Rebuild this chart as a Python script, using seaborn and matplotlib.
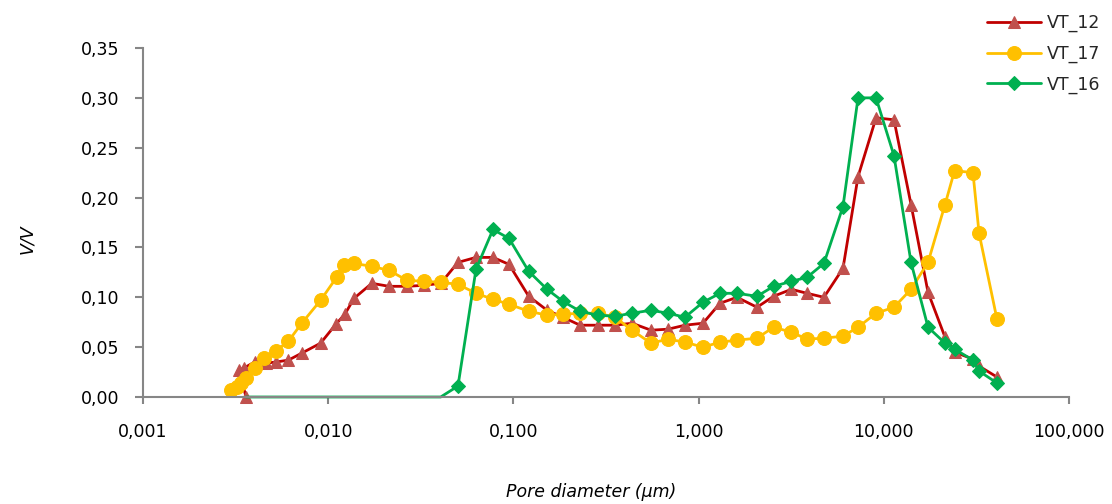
import matplotlib
matplotlib.use("Agg")
import matplotlib.pyplot as plt
from matplotlib.ticker import NullLocator
import pandas as pd
import seaborn as sns

# pore diameters (um) shared by the three curves from ~0.033 um upward
diam_common = [0.0329, 0.0405, 0.0502, 0.0628, 0.0776, 0.0947, 0.121, 0.152, 0.185,
               0.229, 0.286, 0.354, 0.437, 0.553, 0.684, 0.844, 1.056, 1.305, 1.612,
               2.067, 2.54, 3.17, 3.85, 4.75, 6.02, 7.26, 9.08, 11.35, 14.03, 17.33,
               21.41, 24.1, 30.3, 32.7, 40.85]

# VT_12
diam_vt12_left = [0.0036, 0.0033, 0.0035, 0.0040, 0.0046, 0.0052, 0.0061, 0.0072,
                  0.0091, 0.0110, 0.0123, 0.0138, 0.0172, 0.0213, 0.0266]
vv_vt12_left = [0.000, 0.027, 0.029, 0.035, 0.034, 0.035, 0.037, 0.044, 0.054,
                0.073, 0.083, 0.099, 0.114, 0.111, 0.111]
vv_vt12 = [0.112, 0.114, 0.135, 0.140, 0.140, 0.133, 0.101, 0.087, 0.080, 0.072,
           0.072, 0.072, 0.074, 0.067, 0.068, 0.072, 0.074, 0.094, 0.100, 0.090,
           0.101, 0.108, 0.104, 0.100, 0.129, 0.221, 0.280, 0.278, 0.193, 0.105,
           0.060, 0.045, 0.038, 0.031, 0.020]

# VT_17
diam_vt17_left = [0.0030, 0.0032, 0.0034, 0.0036, 0.0040, 0.0045, 0.0052, 0.0061,
                  0.0072, 0.0091, 0.0111, 0.0122, 0.0138, 0.0172, 0.0213, 0.0266]
vv_vt17_left = [0.007, 0.010, 0.014, 0.019, 0.029, 0.039, 0.046, 0.056, 0.074,
                0.097, 0.120, 0.132, 0.134, 0.131, 0.127, 0.117]
vv_vt17 = [0.116, 0.115, 0.113, 0.104, 0.098, 0.093, 0.086, 0.082, 0.083, 0.084,
           0.084, 0.080, 0.067, 0.054, 0.058, 0.055, 0.050, 0.055, 0.057, 0.059,
           0.070, 0.065, 0.058, 0.059, 0.061, 0.070, 0.084, 0.090, 0.108, 0.135,
           0.193, 0.227, 0.225, 0.164, 0.078]

# VT_16
diam_vt16_left = [0.0036]
vv_vt16_left = [0.000]
vv_vt16 = [0.000, 0.000, 0.011, 0.128, 0.168, 0.159, 0.126, 0.108, 0.096, 0.086,
           0.082, 0.081, 0.084, 0.087, 0.084, 0.080, 0.095, 0.104, 0.104, 0.101,
           0.111, 0.116, 0.120, 0.134, 0.191, 0.300, 0.300, 0.242, 0.135, 0.070,
           0.054, 0.048, 0.037, 0.026, 0.014]

x_ticks = [0.001, 0.01, 0.1, 1, 10, 100]
x_tick_labels = ["0,001", "0,010", "0,100", "1,000", "10,000", "100,000"]
y_ticks = [0.0, 0.05, 0.10, 0.15, 0.20, 0.25, 0.30, 0.35]
y_tick_labels = ["0,00", "0,05", "0,10", "0,15", "0,20", "0,25", "0,30", "0,35"]

sns.set_style("white")
plt.rcParams["font.family"] = ["DejaVu Sans"]
FS = 12.5

fig = plt.figure(figsize=(11.12, 5.04), dpi=100)
ax = fig.add_axes([143 / 1112, 1 - 397 / 504, (1069 - 143) / 1112, (397 - 48) / 504])

vt12 = pd.DataFrame({"d": diam_vt12_left + diam_common, "v": vv_vt12_left + vv_vt12})
vt17 = pd.DataFrame({"d": diam_vt17_left + diam_common, "v": vv_vt17_left + vv_vt17})
vt16 = pd.DataFrame({"d": diam_vt16_left + diam_common, "v": vv_vt16_left + vv_vt16})

sns.lineplot(data=vt12, x="d", y="v", sort=False, estimator=None, ax=ax,
             color="#C00000", lw=2, marker="^", markersize=9,
             markerfacecolor="#C0504D", markeredgecolor="#C0504D",
             clip_on=False, label="VT_12")
sns.lineplot(data=vt17, x="d", y="v", sort=False, estimator=None, ax=ax,
             color="#FFC000", lw=2, marker="o", markersize=10,
             markerfacecolor="#FFC000", markeredgecolor="#FFC000",
             clip_on=False, label="VT_17")
# no markers on the flat zero part of VT_16
marked = [i for i, v in enumerate(vt16["v"]) if v > 0]
sns.lineplot(data=vt16, x="d", y="v", sort=False, estimator=None, ax=ax,
             color="#00B050", lw=2, marker="D", markersize=7, markevery=marked,
             markerfacecolor="#00B050", markeredgecolor="#00B050",
             clip_on=False, label="VT_16")

ax.set_xscale("log")
ax.set_xlim(0.001, 100)
ax.set_ylim(0, 0.35)
ax.set_xticks(x_ticks)
ax.set_xticklabels(x_tick_labels)
ax.xaxis.set_minor_locator(NullLocator())
ax.set_yticks(y_ticks)
ax.set_yticklabels(y_tick_labels)
ax.set_xlabel("")
ax.set_ylabel("")

for s in ["top", "right"]:
    ax.spines[s].set_visible(False)
for s in ["left", "bottom"]:
    ax.spines[s].set_color("#868686")
    ax.spines[s].set_linewidth(1.5)

ax.tick_params(axis="x", bottom=True, direction="out", length=5, width=1.5,
               color="#868686", pad=14, labelsize=FS, labelcolor="black")
ax.tick_params(axis="y", left=True, direction="out", length=6, width=1.5,
               color="#868686", pad=11, labelsize=FS, labelcolor="black")

fig.text(27 / 1112, 1 - 239 / 504, "V/V", rotation=90, style="italic",
         ha="center", va="center", fontsize=FS, color="black")
fig.text(591 / 1112, 1 - 492 / 504, "Pore diameter (µm)", style="italic",
         ha="center", va="center", fontsize=FS, color="black")

handles, labels = ax.get_legend_handles_labels()
ax.legend(handles, labels, loc="upper left", bbox_to_anchor=(987 / 1112, 1 - 14 / 504),
          bbox_transform=fig.transFigure, frameon=False, handlelength=3.1,
          handletextpad=0.35, labelspacing=0.72, borderpad=0, borderaxespad=0,
          fontsize=FS)

fig.savefig("out.png", dpi=100)
